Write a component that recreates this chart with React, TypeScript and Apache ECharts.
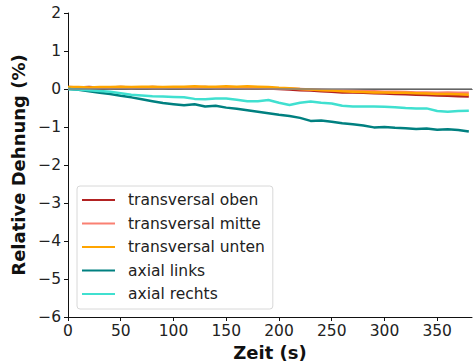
import React, { useEffect, useRef } from "react";
import * as echarts from "echarts";

const time = [0, 10, 20, 30, 40, 50, 60, 70, 80, 90, 100, 110, 120, 130, 140, 150, 160, 170, 180, 190, 200, 210, 220, 230, 240, 250, 260, 270, 280, 290, 300, 310, 320, 330, 340, 350, 360, 370, 380];

const transversalOben = [0.05, 0.04, 0.05, 0.03, 0.04, 0.05, 0.04, 0.03, 0.05, 0.04, 0.04, 0.03, 0.04, 0.05, 0.03, 0.04, 0.03, 0.02, 0.03, 0.01, 0.0, -0.01, -0.03, -0.04, -0.06, -0.07, -0.09, -0.09, -0.1, -0.11, -0.12, -0.13, -0.14, -0.15, -0.16, -0.17, -0.18, -0.19, -0.2];
const transversalMitte = [0.03, 0.03, 0.02, 0.03, 0.02, 0.03, 0.02, 0.03, 0.02, 0.02, 0.03, 0.02, 0.02, 0.03, 0.02, 0.02, 0.02, 0.02, 0.02, 0.01, 0.02, 0.01, 0.0, -0.01, -0.02, -0.03, -0.03, -0.04, -0.05, -0.06, -0.07, -0.07, -0.08, -0.09, -0.09, -0.1, -0.09, -0.1, -0.1];
const transversalUnten = [0.05, 0.05, 0.04, 0.05, 0.05, 0.06, 0.05, 0.06, 0.06, 0.05, 0.06, 0.06, 0.07, 0.06, 0.06, 0.07, 0.06, 0.07, 0.06, 0.05, 0.03, 0.02, 0.0, -0.01, -0.03, -0.04, -0.06, -0.07, -0.08, -0.09, -0.09, -0.1, -0.1, -0.11, -0.12, -0.13, -0.13, -0.14, -0.15];
const axialLinks = [0.0, -0.02, -0.06, -0.1, -0.13, -0.18, -0.22, -0.27, -0.32, -0.37, -0.4, -0.43, -0.4, -0.46, -0.44, -0.49, -0.52, -0.56, -0.6, -0.64, -0.68, -0.71, -0.76, -0.84, -0.83, -0.86, -0.9, -0.93, -0.96, -1.01, -1.0, -1.02, -1.03, -1.05, -1.04, -1.07, -1.06, -1.08, -1.12];
const axialRechts = [0.0, -0.01, -0.03, -0.05, -0.07, -0.11, -0.15, -0.17, -0.19, -0.2, -0.21, -0.22, -0.26, -0.27, -0.25, -0.25, -0.28, -0.32, -0.32, -0.29, -0.36, -0.42, -0.36, -0.33, -0.36, -0.38, -0.44, -0.46, -0.46, -0.46, -0.47, -0.48, -0.5, -0.51, -0.51, -0.58, -0.6, -0.58, -0.57];

const seriesNames = ["transversal oben", "transversal mitte", "transversal unten", "axial links", "axial rechts"];
const seriesColors = ["#b22222", "#fa8072", "#ffa500", "#008080", "#40e0d0"];
const xTicks = [0, 50, 100, 150, 200, 250, 300, 350];

const FONT = "DejaVu Sans";

export default function App() {
  const ref = useRef<HTMLDivElement>(null);
  useEffect(() => {
    if (!ref.current) return;
    const chart = echarts.init(ref.current, null, { renderer: "svg" });
    const allData = [transversalOben, transversalMitte, transversalUnten, axialLinks, axialRechts];
    const fmt = (v: number) => (v < 0 ? "\u2212" + Math.abs(v) : String(v));
    chart.setOption({
      animation: false,
      backgroundColor: "#ffffff",
      grid: { left: 68, right: 1, top: 13, bottom: 47, outerBoundsMode: "none", containLabel: false },
      legend: {
        orient: "vertical",
        left: 77,
        top: 186,
        data: seriesNames.map((n) => ({ name: n, icon: "rect" })),
        itemWidth: 33,
        itemHeight: 2,
        itemGap: 6.5,
        padding: [5.5, 8, 6.5, 5],
        backgroundColor: "rgba(255,255,255,0.8)",
        borderColor: "#d8d8d8",
        borderWidth: 1,
        borderRadius: 3,
        textStyle: { fontFamily: FONT, fontSize: 15.5, color: "#222", lineHeight: 17, padding: [0, 0, 0, 8] },
      },
      xAxis: [
        {
          type: "value",
          min: 0,
          max: 383,
          interval: 50,
          name: "Zeit (s)",
          nameLocation: "middle",
          nameGap: 26,
          nameTextStyle: { fontFamily: FONT, fontSize: 18, fontWeight: "bold", color: "#111" },
          axisLine: { show: true, onZero: false, lineStyle: { color: "#111", width: 1 } },
          axisTick: { show: true, length: 4, lineStyle: { color: "#111" }, customValues: xTicks },
          axisLabel: { fontFamily: FONT, fontSize: 15.5, color: "#222", margin: 6, customValues: xTicks },
          splitLine: { show: false },
        },
        {
          type: "value",
          position: "top",
          min: 0,
          max: 383,
          axisLine: { show: true, lineStyle: { color: "#111", width: 1 } },
          axisTick: { show: false },
          axisLabel: { show: false },
          splitLine: { show: false },
        },
      ],
      yAxis: {
        type: "value",
        min: -6,
        max: 2,
        interval: 1,
        name: "Relative Dehnung (%)",
        nameLocation: "middle",
        nameGap: 31,
        nameTextStyle: { fontFamily: FONT, fontSize: 18, fontWeight: "bold", color: "#111" },
        axisLine: { show: true, onZero: false, lineStyle: { color: "#111", width: 1 } },
        axisTick: { show: true, length: 4, lineStyle: { color: "#111" } },
        axisLabel: { fontFamily: FONT, fontSize: 15.5, color: "#222", margin: 7, formatter: fmt },
        splitLine: { show: false },
      },
      series: seriesNames.map((name, i) => ({
        name,
        type: "line",
        showSymbol: false,
        symbol: "none",
        color: seriesColors[i],
        lineStyle: { color: seriesColors[i], width: 2.5 },
        data: time.map((t, j) => [t, allData[i][j]]),
        ...(i === 0
          ? {
              markLine: {
                silent: true,
                symbol: "none",
                label: { show: false },
                lineStyle: { color: "#808080", type: "solid", width: 1.5 },
                data: [{ yAxis: 0 }],
              },
            }
          : {}),
      })),
    });
    return () => chart.dispose();
  }, []);
  return <div ref={ref} style={{ width: 473, height: 364, position: "absolute", left: 0, top: 0 }} />;
}
